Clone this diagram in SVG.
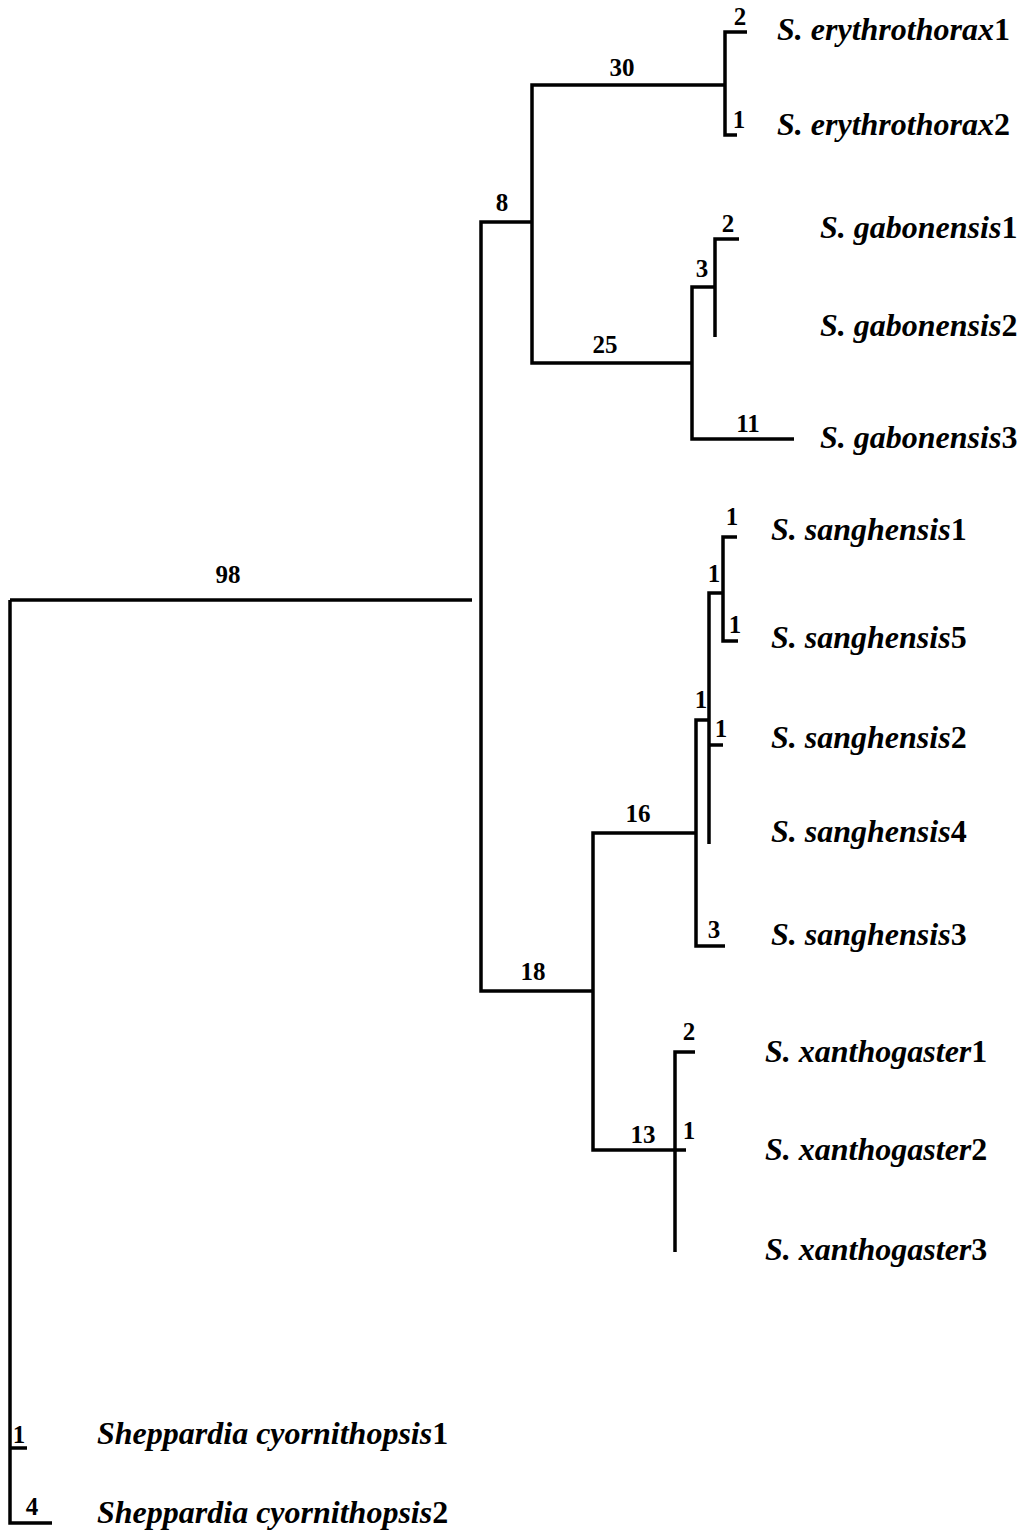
<svg xmlns="http://www.w3.org/2000/svg" width="1028" height="1534" viewBox="0 0 1028 1534">
<style>
.br{fill:none;stroke:#000;stroke-width:3.5;stroke-linejoin:miter;stroke-linecap:butt}
.bl{font-family:"Liberation Serif","Times New Roman",serif;font-weight:bold;font-size:25px;text-anchor:middle;fill:#000}
.tx{font-family:"Liberation Serif","Times New Roman",serif;font-weight:bold;font-style:italic;font-size:32px;fill:#000}
.d{font-style:normal}
</style>
<rect width="1028" height="1534" fill="#fff"/>
<g id="connectors">
<path class="br" d="M10,600 V1523 H52"/>
<path class="br" d="M10,1448 H27"/>
<path class="br" d="M10,600 H472"/>
<path class="br" d="M532,222 H481 V991 H593"/>
<path class="br" d="M725,85 H532 V363 H692"/>
<path class="br" d="M747,32 H725 V135 H737"/>
<path class="br" d="M715,287 H692 V439 H794"/>
<path class="br" d="M739,239 H715 V337"/>
<path class="br" d="M696,833 H593 V1150 H686"/>
<path class="br" d="M709,720 H696 V946 H725"/>
<path class="br" d="M723,593 H709 V844"/>
<path class="br" d="M709,745 H723"/>
<path class="br" d="M737,537 H723 V641 H738"/>
<path class="br" d="M695,1052 H675 V1252"/>
</g>
<g id="branch-labels">
<text class="bl" x="228" y="583">98</text>
<text class="bl" x="502" y="211">8</text>
<text class="bl" x="622" y="76">30</text>
<text class="bl" x="740" y="25">2</text>
<text class="bl" x="739" y="128">1</text>
<text class="bl" x="605" y="353">25</text>
<text class="bl" x="702" y="277">3</text>
<text class="bl" x="728" y="232">2</text>
<text class="bl" x="748" y="432">11</text>
<text class="bl" x="732" y="525">1</text>
<text class="bl" x="714" y="582">1</text>
<text class="bl" x="735" y="633">1</text>
<text class="bl" x="701" y="708">1</text>
<text class="bl" x="721" y="737">1</text>
<text class="bl" x="638" y="822">16</text>
<text class="bl" x="714" y="938">3</text>
<text class="bl" x="533" y="980">18</text>
<text class="bl" x="689" y="1040">2</text>
<text class="bl" x="643" y="1143">13</text>
<text class="bl" x="689" y="1139">1</text>
<text class="bl" x="19" y="1443">1</text>
<text class="bl" x="32" y="1515">4</text>
</g>
<g id="taxa">
<g id="ery1"><text class="tx" x="777" y="40">S. erythrothorax<tspan class="d">1</tspan></text></g>
<g id="ery2"><text class="tx" x="777" y="135">S. erythrothorax<tspan class="d">2</tspan></text></g>
<g id="gab1"><text class="tx" x="820" y="238">S. gabonensis<tspan class="d">1</tspan></text></g>
<g id="gab2"><text class="tx" x="820" y="336">S. gabonensis<tspan class="d">2</tspan></text></g>
<g id="gab3"><text class="tx" x="820" y="448">S. gabonensis<tspan class="d">3</tspan></text></g>
<g id="san1"><text class="tx" x="771" y="540">S. sanghensis<tspan class="d">1</tspan></text></g>
<g id="san5"><text class="tx" x="771" y="648">S. sanghensis<tspan class="d">5</tspan></text></g>
<g id="san2"><text class="tx" x="771" y="748">S. sanghensis<tspan class="d">2</tspan></text></g>
<g id="san4"><text class="tx" x="771" y="842">S. sanghensis<tspan class="d">4</tspan></text></g>
<g id="san3"><text class="tx" x="771" y="945">S. sanghensis<tspan class="d">3</tspan></text></g>
<g id="xan1"><text class="tx" x="765" y="1062">S. xanthogaster<tspan class="d">1</tspan></text></g>
<g id="xan2"><text class="tx" x="765" y="1160">S. xanthogaster<tspan class="d">2</tspan></text></g>
<g id="xan3"><text class="tx" x="765" y="1260">S. xanthogaster<tspan class="d">3</tspan></text></g>
<g id="shep1"><text class="tx" x="97" y="1444">Sheppardia cyornithopsis<tspan class="d">1</tspan></text></g>
<g id="shep2"><text class="tx" x="97" y="1523">Sheppardia cyornithopsis<tspan class="d">2</tspan></text></g>
</g>
</svg>
